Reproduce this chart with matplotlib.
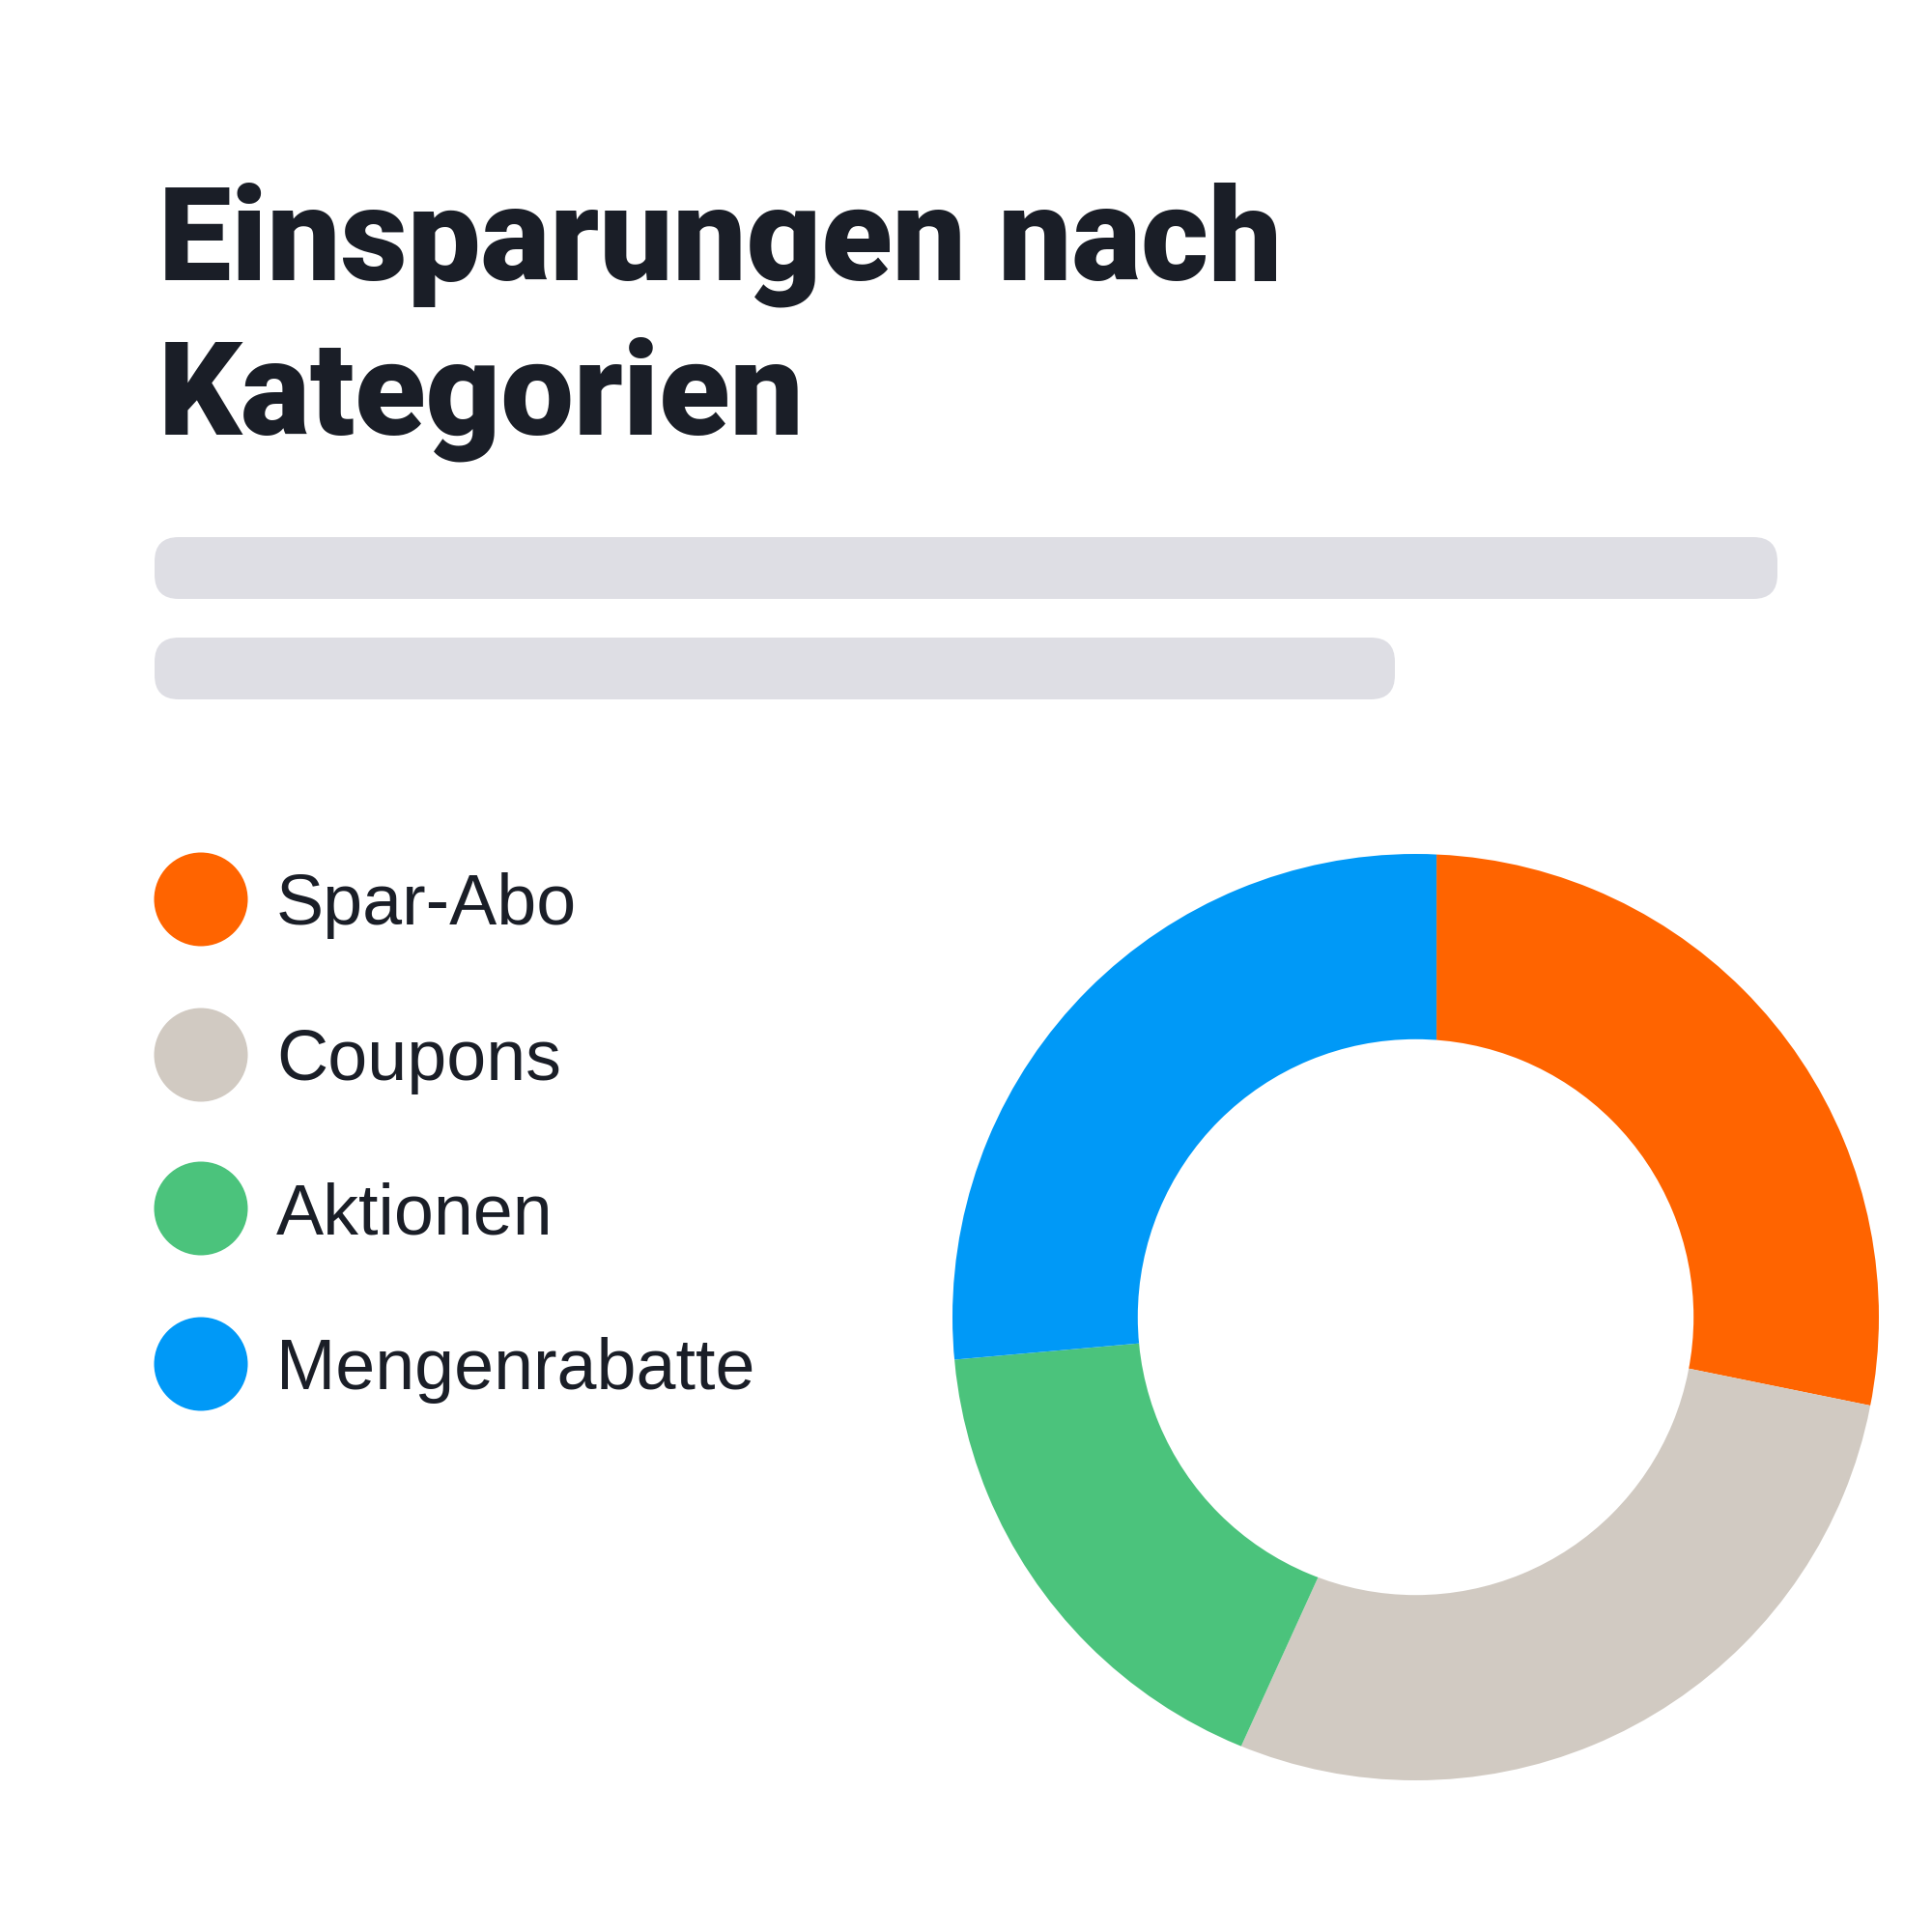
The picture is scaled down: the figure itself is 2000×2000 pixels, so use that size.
import matplotlib
matplotlib.use("Agg")
import matplotlib.pyplot as plt
from matplotlib.patches import Circle, FancyBboxPatch, Wedge

# data
categories = ["Spar-Abo", "Coupons", "Aktionen", "Mengenrabatte"]
values = [28.2, 28.6, 16.8, 26.4]
colors = ["#FF6400", "#D1CAC2", "#4BC37C", "#0099F7"]
title_lines = ["Einsparungen nach", "Kategorien"]

INK = "#1A1E27"
PLACEHOLDER = "#DEDEE4"

fig = plt.figure(figsize=(20, 20), dpi=100, facecolor="white")

# full-figure axes in pixel units (y grows downward)
bg = fig.add_axes([0, 0, 1, 1])
bg.set_xlim(0, 2000)
bg.set_ylim(2000, 0)
bg.axis("off")

# title
for i, line in enumerate(title_lines):
    bg.text(164, 290 + i * 159, line, fontsize=97, family=["Roboto", "DejaVu Sans"],
            fontweight="black", color=INK, va="baseline", ha="left")

# placeholder text bars
for x0, x1, y0 in [(160, 1840, 556), (160, 1444, 660)]:
    bg.add_patch(FancyBboxPatch((x0, y0), x1 - x0, 64,
                                boxstyle="round,pad=0,rounding_size=25",
                                facecolor=PLACEHOLDER, edgecolor="none"))

# legend
legend_y = [931, 1092, 1251, 1412]
for label, col, yc in zip(categories, colors, legend_y):
    bg.add_patch(Circle((208, yc), 48.5, facecolor=col, edgecolor="none"))
    bg.text(286, yc + 26, label, fontsize=53, family=["Liberation Sans", "DejaVu Sans"],
            color=INK, va="baseline", ha="left")

# donut: slices from a slightly shifted origin, clipped to the ring
cx, cy, R = 1465.5, 1363.5, 479.5
half = 1.1 * R
ax = fig.add_axes([(cx - half) / 2000, (2000 - cy - half) / 2000, 2 * half / 2000, 2 * half / 2000])
wedges, _ = ax.pie(values, colors=colors, startangle=90, counterclock=False,
                   radius=1.6, center=(0.045, 0.0),
                   wedgeprops=dict(linewidth=0, edgecolor="none"))
ax.set_xlim(-1.1, 1.1)
ax.set_ylim(-1.1, 1.1)
ax.set_aspect("equal")
ax.axis("off")
ring = Wedge((0, 0), 1.0, 0, 360, width=0.4, transform=ax.transData)
for w in wedges:
    w.set_clip_on(True)
    w.set_clip_path(ring)

fig.savefig("out.png", dpi=100, facecolor="white")
